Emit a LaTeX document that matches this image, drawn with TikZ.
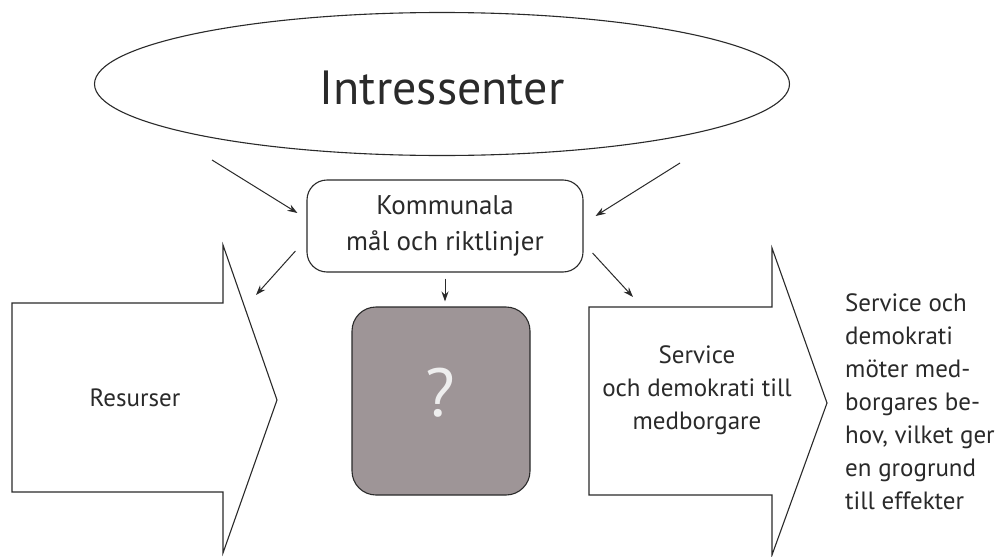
\documentclass[tikz,border=0pt]{standalone}
\usepackage{fontspec}
\setmainfont{PT Sans}
\usetikzlibrary{shapes.geometric,arrows.meta,calc}
\definecolor{ink}{HTML}{2A2A2A}
\definecolor{boxgrey}{HTML}{9E9597}
\definecolor{qmark}{HTML}{EEEEEE}
\begin{document}
\begin{tikzpicture}[x=1pt,y=-1pt,
  line/.style={draw=ink,line width=1.1pt},
  conn/.style={draw=ink,line width=1pt,-{Stealth[length=10pt,width=7pt]}},
  txt/.style={text=ink,font=\fontsize{25}{33}\selectfont,align=center,inner sep=0pt}]
\useasboundingbox (0,0) rectangle (1005,557);
\fill[white] (0,0) rectangle (1005,557);
% ellipse
\node[ellipse,line,minimum width=695pt,minimum height=143pt,inner sep=0pt] (E) at (442,84) {};
\node[text=ink,font=\fontsize{48}{50}\selectfont,inner sep=0pt] (EL) at (442,88) {Intressenter};
% goals box
\node[line,rounded corners=20pt,minimum width=276pt,minimum height=92pt,
      txt,font=\fontsize{27}{36}\selectfont] (K) at (445,226) {Kommunala\\mål och riktlinjer};
% left arrow
\draw[line,line join=miter] (12,303) -- (223,303) -- (223,245) -- (277,400) -- (223,553) -- (223,492) -- (12,492) -- cycle;
\node[txt] (R) at (135,398) {Resurser};
% grey box
\node[draw=ink,line width=1.1pt,fill=boxgrey,rounded corners=24pt,minimum width=178pt,minimum height=188pt] (Q) at (441,401) {};
\node[text=qmark,font=\fontsize{68}{70}\selectfont,inner sep=0pt] (QM) at (440,393) {?};
% right arrow
\draw[line,line join=miter] (589,307) -- (772,307) -- (772,248) -- (827,403) -- (772,555) -- (772,495) -- (589,495) -- cycle;
\node[txt] (S) at (697,390) {Service\\och demokrati till\\medborgare};
% right text
\node[txt,align=left,anchor=west] (T) at (845,402) {Service och\\demokrati\\möter med-\\borgares be-\\hov, vilket ger\\en grogrund\\till effekter};
% connector ends
\coordinate (a1) at (212,160);
\coordinate (a2) at (680,163);
\coordinate (k1) at ([shift={(-9,-13)}]K.west);
\coordinate (k2) at ([shift={(12,-10)}]K.east);
\coordinate (k3) at ([shift={(-11,25)}]K.west);
\coordinate (k4) at ([shift={(9,27)}]K.east);
\coordinate (k5) at ([shift={(0,6)}]K.south);
\coordinate (q1) at ($(K.south |- Q.north)+(0,-5)$);
\coordinate (b1) at (256,295);
\coordinate (b3) at (633,297);
% connectors
\draw[conn] (a1) -- (k1);
\draw[conn] (a2) -- (k2);
\draw[conn] (k3) -- (b1);
\draw[conn] (k4) -- (b3);
\draw[conn] (k5) -- (q1);
\end{tikzpicture}
\end{document}
